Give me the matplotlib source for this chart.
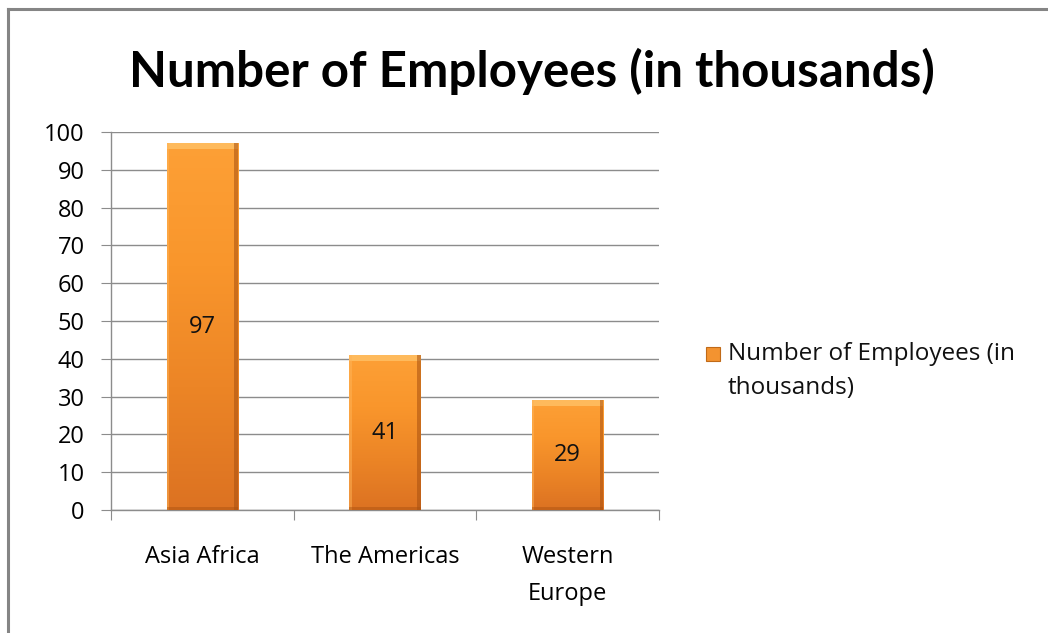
import matplotlib
matplotlib.use("Agg")
import matplotlib.pyplot as plt
import numpy as np
from matplotlib.lines import Line2D
from matplotlib.patches import Rectangle
from matplotlib.colors import LinearSegmentedColormap

categories = ["Asia Africa", "The Americas", "Western\nEurope"]
values = [97, 41, 29]
series_name = "Number of Employees (in\nthousands)"
title = "Number of Employees (in thousands)"
yticks = [0, 10, 20, 30, 40, 50, 60, 70, 80, 90, 100]

plt.rcParams['font.family'] = ['Open Sans', 'DejaVu Sans']

fig = plt.figure(figsize=(10.48, 6.33), dpi=100)
W, H = 1048, 633

# outer frame (top and left edges visible)
fig.add_artist(Line2D([8/W, 1.0], [1-9/H, 1-9/H], transform=fig.transFigure, color="#858585", lw=2.2))
fig.add_artist(Line2D([8/W, 8/W], [0, 1-9/H], transform=fig.transFigure, color="#858585", lw=2.2))

ax = fig.add_axes([111/W, 1-510/H, (659-111)/W, (510-132)/H])
ax.set_xlim(-0.5, len(categories)-0.5)
ax.set_ylim(0, 100)

x = np.arange(len(categories))
width = 0.39
cmap = LinearSegmentedColormap.from_list("og", ["#DC7222", "#EC8526", "#F9962C", "#FDA036"])
bars = ax.bar(x, values, width=width, color="#F39330", edgecolor="none", zorder=3)
grad = np.linspace(0, 1, 256).reshape(-1, 1)
for b in bars:
    x0, w, h = b.get_x(), b.get_width(), b.get_height()
    im = ax.imshow(grad, extent=[x0, x0+w, 0, h], origin="lower", cmap=cmap, aspect="auto", zorder=3.1)
    im.set_clip_path(b)
    # bevel highlights/shadows
    ax.add_patch(Rectangle((x0, h-1.6), w, 1.6, facecolor="#FFC064", edgecolor="none", zorder=3.2, alpha=0.85))
    ax.add_patch(Rectangle((x0+w*0.95, 0), w*0.05, h, facecolor="#A85010", edgecolor="none", zorder=3.2, alpha=0.55))
    ax.add_patch(Rectangle((x0, 0), w*0.03, h, facecolor="#FFB458", edgecolor="none", zorder=3.2, alpha=0.5))
    ax.add_patch(Rectangle((x0, 0), w, 0.9, facecolor="#A85010", edgecolor="none", zorder=3.2, alpha=0.45))
    ax.text(b.get_x()+w/2, h/2, f"{h:g}", ha="center", va="center", fontsize=17, color="#111111", zorder=4)

ax.set_yticks(yticks)
ax.set_yticklabels([str(t) for t in yticks], fontsize=17)
ax.yaxis.grid(True, color="#8C8C8C", lw=1.0, zorder=0)
ax.set_axisbelow(True)
ax.set_xticks(np.arange(-0.5, len(categories), 1.0))
ax.set_xticklabels([])
ax.set_xticks(x, minor=True)
ax.set_xticklabels(categories, minor=True, fontsize=17, linespacing=1.75)
ax.tick_params(axis="x", which="major", length=7, color="#8C8C8C", direction="out")
ax.tick_params(axis="x", which="minor", length=0, pad=25)
ax.tick_params(axis="y", length=7, color="#8C8C8C", direction="out", pad=12)
for s in ["top", "right"]:
    ax.spines[s].set_visible(False)
for s in ["left", "bottom"]:
    ax.spines[s].set_color("#8C8C8C")
    ax.spines[s].set_linewidth(1.0)

fig.text(532/W, 1-71/H, title, ha="center", va="center", fontsize=35.5, fontweight="bold",
         color="#000000", family=["Lato", "DejaVu Sans"])

# legend
fig.add_artist(Rectangle((706/W, 1-361/H), 14/W, 14/H, transform=fig.transFigure,
                         facecolor="#F39330", edgecolor="#C06A18", lw=0.8))
fig.text(728/W, 1-371/H, series_name, ha="left", va="center", fontsize=17.5, color="#111111",
         linespacing=1.5)

fig.savefig("out.png", dpi=100)
